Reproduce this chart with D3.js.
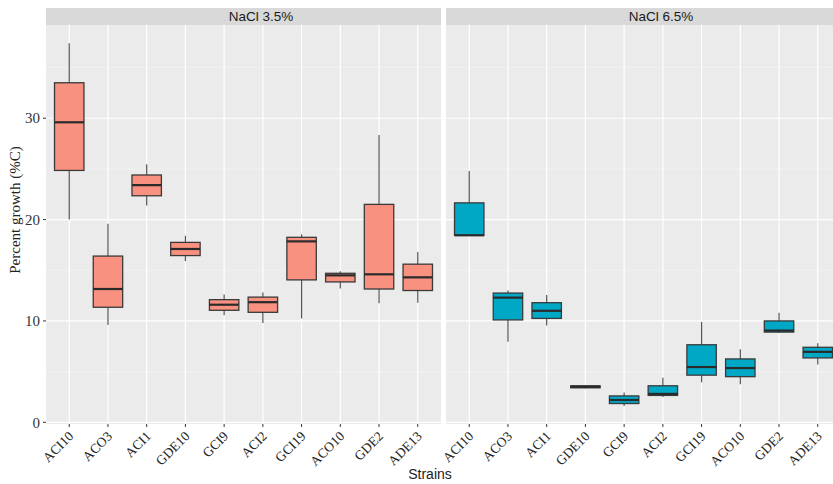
<!DOCTYPE html>
<html lang="en">
  <head>
    <meta charset="utf-8">
    <title>Percent growth by strain</title>
    <script src="https://d3js.org/d3.v7.min.js"></script>
    <style>
      body { margin: 0; background: #fff; overflow: hidden; }
      svg { display: block; }
    </style>
  </head>
  <body>
    <svg width="833" height="484"></svg>
    <script type="text/javascript">
      // strains, in plotting order
      var strains = ["ACI10", "ACO3", "ACI1", "GDE10", "GCI9", "ACI2", "GCI19", "ACO10", "GDE2", "ADE13"];
      var panels = ["NaCl 3.5%", "NaCl 6.5%"];
      var yTicks = [0, 10, 20, 30];

      // five-number summaries [min, q1, median, q3, max]
      var nacl35 = [
        [20.0, 24.85, 29.6, 33.5, 37.4],
        [9.6, 11.35, 13.15, 16.4, 19.6],
        [21.4, 22.35, 23.4, 24.4, 25.45],
        [15.9, 16.45, 17.1, 17.75, 18.4],
        [10.55, 11.05, 11.6, 12.1, 12.6],
        [9.8, 10.85, 11.85, 12.35, 12.8],
        [10.25, 14.05, 17.85, 18.25, 18.55],
        [13.2, 13.85, 14.5, 14.7, 14.9],
        [11.75, 13.15, 14.6, 21.5, 28.35],
        [11.8, 13.0, 14.3, 15.6, 16.8]
      ];
      var nacl65 = [
        [18.45, 18.45, 18.45, 21.65, 24.8],
        [7.95, 10.1, 12.3, 12.75, 13.0],
        [9.55, 10.25, 11.0, 11.8, 12.55],
        [3.35, 3.4, 3.5, 3.6, 3.65],
        [1.6, 1.85, 2.2, 2.6, 2.95],
        [2.5, 2.65, 2.8, 3.6, 4.4],
        [3.95, 4.65, 5.45, 7.65, 9.9],
        [3.75, 4.5, 5.35, 6.25, 7.2],
        [8.8, 8.9, 9.05, 10.0, 10.8],
        [5.7, 6.35, 6.95, 7.4, 7.8]
      ];
      var fills = ["#F8917F", "#00A8C6"];

      var svg = d3.select("svg");
      var panelW = 395, panelTop = 25, panelBottom = 424;
      var panelX = [46, 446];
      var labelX = [261, 661];

      var y = d3.scaleLinear().domain([-0.17, 39.2]).range([panelBottom, panelTop]);

      var serif = "'Liberation Serif', 'DejaVu Serif', serif";
      var sans = "'Liberation Sans', Arial, sans-serif";

      [nacl35, nacl65].forEach(function(data, p) {
        var x = d3.scalePoint().domain(strains).range([0, panelW]).padding(0.6);
        var step = x.step();
        var g = svg.append("g").attr("transform", "translate(" + panelX[p] + ",0)");

        g.append("rect")
            .attr("x", 0).attr("y", panelTop)
            .attr("width", panelW).attr("height", panelBottom - panelTop)
            .attr("fill", "#EBEBEB");

        // minor grid
        g.selectAll(".minor")
          .data([5, 15, 25, 35])
          .enter().append("line")
            .attr("x1", 0).attr("x2", panelW)
            .attr("y1", function(d) { return y(d); })
            .attr("y2", function(d) { return y(d); })
            .attr("stroke", "#F5F5F5").attr("stroke-width", 0.6);

        // major grid
        g.selectAll(".major")
          .data(yTicks)
          .enter().append("line")
            .attr("x1", 0).attr("x2", panelW)
            .attr("y1", function(d) { return y(d); })
            .attr("y2", function(d) { return y(d); })
            .attr("stroke", "#fff").attr("stroke-width", 1.2);

        g.selectAll(".vgrid")
          .data(strains)
          .enter().append("line")
            .attr("x1", function(d) { return x(d); })
            .attr("x2", function(d) { return x(d); })
            .attr("y1", panelTop).attr("y2", panelBottom)
            .attr("stroke", "#fff").attr("stroke-width", 1.2);

        // strip
        g.append("rect")
            .attr("x", 0).attr("y", 8)
            .attr("width", panelW).attr("height", panelTop - 8)
            .attr("fill", "#D9D9D9");
        svg.append("text")
            .attr("x", labelX[p]).attr("y", 21)
            .attr("text-anchor", "middle")
            .attr("font-family", sans).attr("font-size", 13.5)
            .attr("fill", "#1a1a1a")
            .text(panels[p]);

        // boxes
        var bw = step * 0.76;
        var box = g.selectAll(".box")
          .data(data)
          .enter().append("g")
            .attr("transform", function(d, i) { return "translate(" + x(strains[i]) + ",0)"; });

        box.append("line")
            .attr("x1", 0).attr("x2", 0)
            .attr("y1", function(d) { return y(d[3]); })
            .attr("y2", function(d) { return y(d[4]); })
            .attr("stroke", "#555").attr("stroke-width", 1.2);
        box.append("line")
            .attr("x1", 0).attr("x2", 0)
            .attr("y1", function(d) { return y(d[1]); })
            .attr("y2", function(d) { return y(d[0]); })
            .attr("stroke", "#555").attr("stroke-width", 1.2);
        box.append("rect")
            .attr("x", -bw / 2).attr("width", bw)
            .attr("y", function(d) { return y(d[3]); })
            .attr("height", function(d) { return Math.max(1, y(d[1]) - y(d[3])); })
            .attr("fill", fills[p])
            .attr("stroke", "#3a3a3a").attr("stroke-width", 1.3);
        box.append("line")
            .attr("x1", -bw / 2).attr("x2", bw / 2)
            .attr("y1", function(d) { return y(d[2]); })
            .attr("y2", function(d) { return y(d[2]); })
            .attr("stroke", "#2a2a2a").attr("stroke-width", 2.2);

        // x axis ticks and labels
        var xt = g.selectAll(".xtick")
          .data(strains)
          .enter().append("g")
            .attr("transform", function(d) { return "translate(" + x(d) + "," + panelBottom + ")"; });
        xt.append("line")
            .attr("y1", 0).attr("y2", 3)
            .attr("stroke", "#333").attr("stroke-width", 1);
        xt.append("text")
            .attr("transform", "translate(5,13) rotate(-45)")
            .attr("text-anchor", "end")
            .attr("font-family", serif).attr("font-size", 13.5)
            .attr("fill", "#222")
            .text(function(d) { return d; });
      });

      // y axis
      var ya = svg.append("g").attr("transform", "translate(" + panelX[0] + ",0)");
      var yt = ya.selectAll(".ytick")
        .data(yTicks)
        .enter().append("g")
          .attr("transform", function(d) { return "translate(0," + y(d) + ")"; });
      yt.append("line")
          .attr("x1", -3).attr("x2", 0)
          .attr("stroke", "#333").attr("stroke-width", 1);
      yt.append("text")
          .attr("x", -6).attr("dy", "0.35em")
          .attr("text-anchor", "end")
          .attr("font-family", serif).attr("font-size", 15)
          .attr("fill", "#333")
          .text(function(d) { return d; });

      svg.append("text")
          .attr("transform", "translate(20,210) rotate(-90)")
          .attr("text-anchor", "middle")
          .attr("font-family", serif).attr("font-size", 15)
          .attr("fill", "#222")
          .text("Percent growth (%C)");

      svg.append("text")
          .attr("x", 430).attr("y", 479)
          .attr("text-anchor", "middle")
          .attr("font-family", sans).attr("font-size", 14)
          .attr("fill", "#222")
          .text("Strains");
    </script>
  </body>
</html>
